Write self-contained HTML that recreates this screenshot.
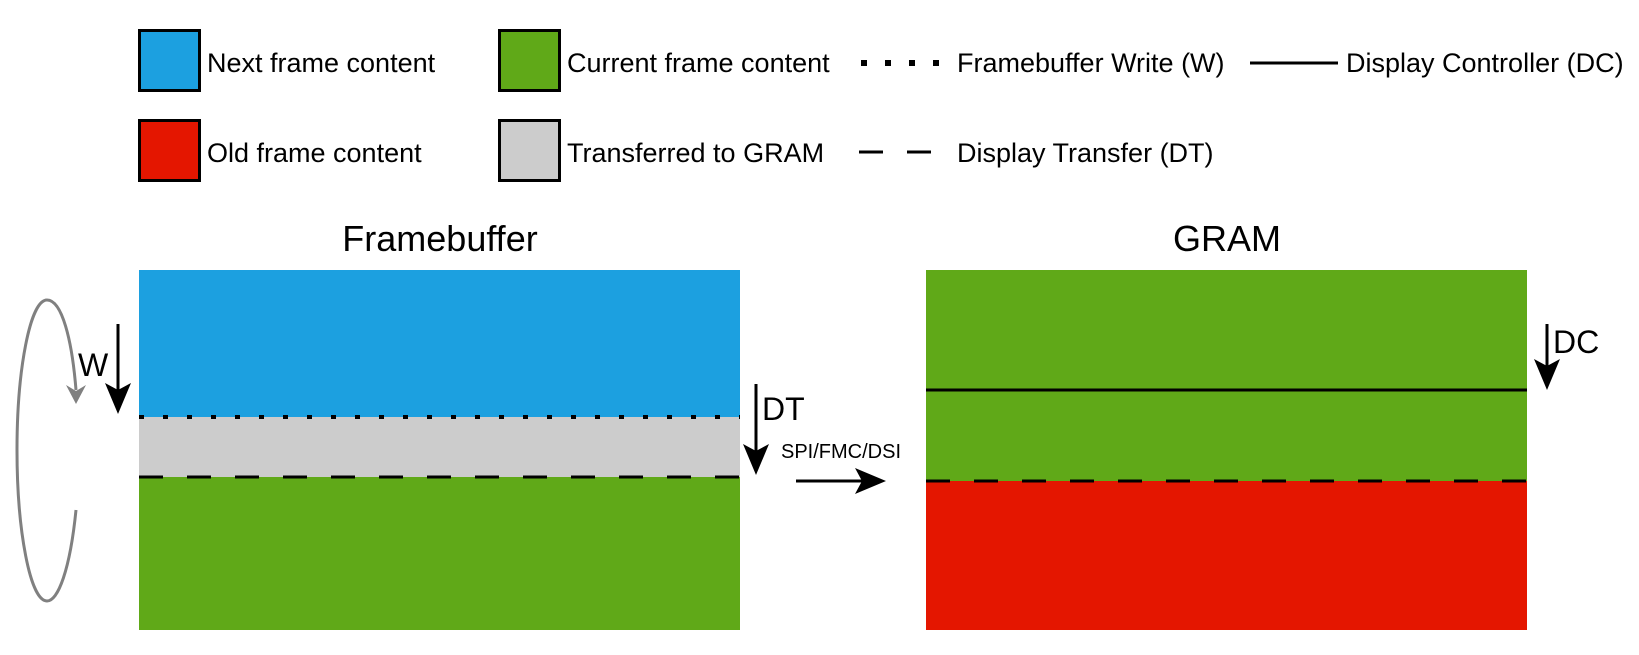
<!DOCTYPE html>
<html><head><meta charset="utf-8"><style>
html,body{margin:0;padding:0;background:#fff;}
svg{display:block;}
text{font-family:"Liberation Sans",Arial,sans-serif;fill:#000;}
</style></head><body>
<svg width="1639" height="655" viewBox="0 0 1639 655" xmlns="http://www.w3.org/2000/svg">
<!-- legend -->
<rect x="139.5" y="30.5" width="60" height="60" fill="#1ca0e0" stroke="#000" stroke-width="3"/>
<rect x="139.5" y="120.5" width="60" height="60" fill="#e41600" stroke="#000" stroke-width="3"/>
<rect x="499.5" y="30.5" width="60" height="60" fill="#60a918" stroke="#000" stroke-width="3"/>
<rect x="499.5" y="120.5" width="60" height="60" fill="#cccccc" stroke="#000" stroke-width="3"/>
<text x="207" y="72" font-size="27">Next frame content</text>
<text x="207" y="162" font-size="27">Old frame content</text>
<text x="567" y="72" font-size="27">Current frame content</text>
<text x="567" y="162" font-size="27">Transferred to GRAM</text>
<g fill="#000"><rect x="861" y="60" width="6" height="6"/><rect x="885" y="60" width="6" height="6"/><rect x="909" y="60" width="6" height="6"/><rect x="933" y="60" width="6" height="6"/></g>
<text x="957" y="72" font-size="27">Framebuffer Write (W)</text>
<line x1="1250" y1="63" x2="1338" y2="63" stroke="#000" stroke-width="3"/>
<text x="1346" y="72" font-size="27">Display Controller (DC)</text>
<line x1="859" y1="152" x2="883" y2="152" stroke="#000" stroke-width="3"/>
<line x1="907" y1="152" x2="931" y2="152" stroke="#000" stroke-width="3"/>
<text x="957" y="162" font-size="27">Display Transfer (DT)</text>
<!-- titles -->
<text x="440" y="251" font-size="36" text-anchor="middle">Framebuffer</text>
<text x="1227" y="251" font-size="36" text-anchor="middle">GRAM</text>
<!-- framebuffer -->
<rect x="139" y="270" width="601" height="147" fill="#1ca0e0"/>
<rect x="139" y="417" width="601" height="60" fill="#cccccc"/>
<rect x="139" y="477" width="601" height="153" fill="#60a918"/>
<line x1="139" y1="417" x2="740" y2="417" stroke="#000" stroke-width="4" stroke-dasharray="5 19"/>
<line x1="139" y1="477" x2="740" y2="477" stroke="#000" stroke-width="3" stroke-dasharray="24 24"/>
<!-- GRAM -->
<rect x="926" y="270" width="601" height="211" fill="#60a918"/>
<rect x="926" y="481" width="601" height="149" fill="#e41600"/>
<line x1="926" y1="390" x2="1527" y2="390" stroke="#000" stroke-width="3"/>
<line x1="926" y1="481" x2="1527" y2="481" stroke="#000" stroke-width="3" stroke-dasharray="24 24"/>
<!-- loop -->
<path d="M76,510 C70,570 58,601 47,601 C30,601 17,530 17,450 C17,370 30,300 47,300 C62,300 72,340 76,390" fill="none" stroke="#808080" stroke-width="3"/>
<path d="M66,385 L76,404 L86,385 L76,391 z" fill="#808080"/>
<!-- arrows -->
<line x1="118" y1="324" x2="118" y2="395" stroke="#000" stroke-width="3"/>
<path d="M105,383 L118,414 L131,383 L118,390 z" fill="#000"/>
<text x="78" y="376" font-size="32">W</text>
<line x1="756" y1="384" x2="756" y2="460" stroke="#000" stroke-width="3"/>
<path d="M743,444 L756,475 L769,444 L756,451 z" fill="#000"/>
<text x="762" y="420" font-size="32">DT</text>
<text x="781" y="458" font-size="20">SPI/FMC/DSI</text>
<line x1="796" y1="481" x2="870" y2="481" stroke="#000" stroke-width="3"/>
<path d="M855,468 L886,481 L855,494 L862,481 z" fill="#000"/>
<line x1="1547" y1="324" x2="1547" y2="375" stroke="#000" stroke-width="3"/>
<path d="M1534,359 L1547,390 L1560,359 L1547,366 z" fill="#000"/>
<text x="1553" y="353" font-size="32">DC</text>
</svg>
</body></html>
